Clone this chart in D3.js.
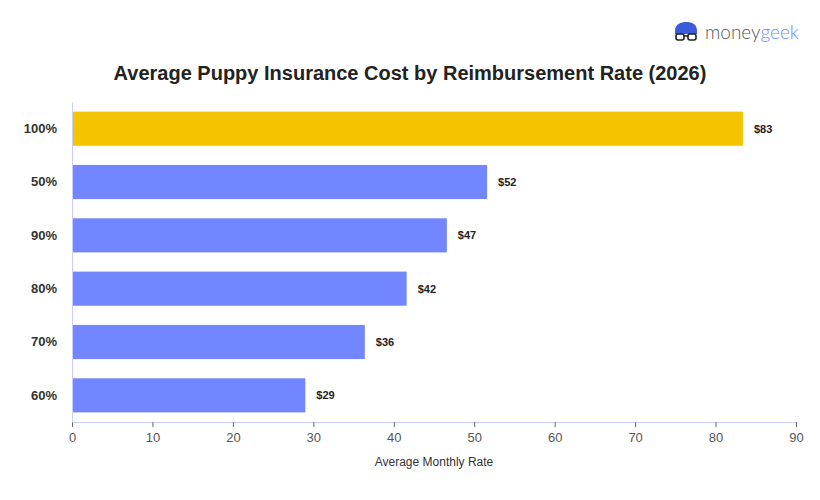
<!DOCTYPE html>
<html>
<head>
<meta charset="utf-8">
<script src="https://cdn.jsdelivr.net/npm/d3@7"></script>
<style>
  body { margin: 0; background: #fff; }
  svg { font-family: "Helvetica Neue", Helvetica, Arial, "Liberation Sans", sans-serif; }
</style>
</head>
<body>
<div id="chart"></div>
<script>
// reimbursement rates, top to bottom
var rates = ["100%", "50%", "90%", "80%", "70%", "60%"];
// average monthly cost in dollars
var costs = [83.4, 51.6, 46.6, 41.6, 36.4, 29.0];
var costLabels = ["$83", "$52", "$47", "$42", "$36", "$29"];
var xTicks = [0, 10, 20, 30, 40, 50, 60, 70, 80, 90];

var width = 820, height = 500;
var margin = { top: 102, right: 24, bottom: 78, left: 72 };
var innerW = width - margin.left - margin.right;
var innerH = height - margin.top - margin.bottom;

var svg = d3.select("#chart").append("svg")
    .attr("width", width)
    .attr("height", height);

// title
svg.append("text")
    .attr("x", 410)
    .attr("y", 80)
    .attr("text-anchor", "middle")
    .attr("font-size", 20)
    .attr("font-weight", "bold")
    .attr("fill", "#222")
    .text("Average Puppy Insurance Cost by Reimbursement Rate (2026)");

// logo
var logo = svg.append("g").attr("transform", "translate(674,22)");
logo.append("path")
    .attr("d", "M1,9 C1,2 7,0 12,0 C18,0 23,2 23,9 L23,12 L1,12 Z")
    .attr("fill", "#3b5bdb");
logo.append("rect").attr("x", 2).attr("y", 12).attr("width", 8).attr("height", 6).attr("rx", 2)
    .attr("fill", "none").attr("stroke", "#222").attr("stroke-width", 1.6);
logo.append("rect").attr("x", 14).attr("y", 12).attr("width", 8).attr("height", 6).attr("rx", 2)
    .attr("fill", "none").attr("stroke", "#222").attr("stroke-width", 1.6);
logo.append("line").attr("x1", 10).attr("x2", 14).attr("y1", 14).attr("y2", 14)
    .attr("stroke", "#222").attr("stroke-width", 1.6);
var logoText = logo.append("text")
    .attr("x", 31)
    .attr("y", 17)
    .attr("font-size", 19)
    .attr("font-weight", 300)
    .attr("font-family", "Lato, 'Open Sans', sans-serif");
logoText.append("tspan").attr("fill", "#555").text("money");
logoText.append("tspan").attr("fill", "#6f8cff").text("geek");

var g = svg.append("g")
    .attr("transform", "translate(" + margin.left + "," + margin.top + ")");

var x = d3.scaleLinear().domain([0, 90]).range([0, innerW]);
var y = d3.scaleBand().domain(rates).range([0, innerH])
    .paddingInner(0.36).paddingOuter(0.18);

// bars
g.selectAll("rect.bar")
    .data(rates)
    .enter().append("rect")
    .attr("class", "bar")
    .attr("x", 0)
    .attr("y", function(d) { return y(d); })
    .attr("width", function(d, i) { return x(costs[i]); })
    .attr("height", y.bandwidth())
    .attr("fill", function(d, i) { return i === 0 ? "#f5c400" : "#7287ff"; });

// value labels
g.selectAll("text.val")
    .data(rates)
    .enter().append("text")
    .attr("class", "val")
    .attr("x", function(d, i) { return x(costs[i]) + 11; })
    .attr("y", function(d) { return y(d) + y.bandwidth() / 2; })
    .attr("dy", "0.35em")
    .attr("font-size", 11)
    .attr("font-weight", "bold")
    .attr("fill", "#222")
    .text(function(d, i) { return costLabels[i]; });

// x axis
var xAxis = g.append("g")
    .attr("transform", "translate(0," + innerH + ")")
    .call(d3.axisBottom(x).tickValues(xTicks).tickSize(5).tickPadding(6));
xAxis.select(".domain").attr("stroke", "#c8ceff");
xAxis.selectAll(".tick line").attr("stroke", "#666");
xAxis.selectAll(".tick text")
    .attr("font-size", 13)
    .attr("fill", "#555")
    .attr("font-family", "Helvetica, Arial, 'Liberation Sans', sans-serif");

// y axis
var yAxis = g.append("g")
    .call(d3.axisLeft(y).tickSize(0).tickPadding(15));
yAxis.select(".domain").attr("stroke", "#c8ceff");
yAxis.selectAll(".tick text")
    .attr("font-size", 13)
    .attr("font-weight", "bold")
    .attr("fill", "#333")
    .attr("font-family", "Helvetica, Arial, 'Liberation Sans', sans-serif");

// x axis title
svg.append("text")
    .attr("x", margin.left + innerW / 2)
    .attr("y", 466)
    .attr("text-anchor", "middle")
    .attr("font-size", 12)
    .attr("fill", "#333")
    .text("Average Monthly Rate");
</script>
</body>
</html>
